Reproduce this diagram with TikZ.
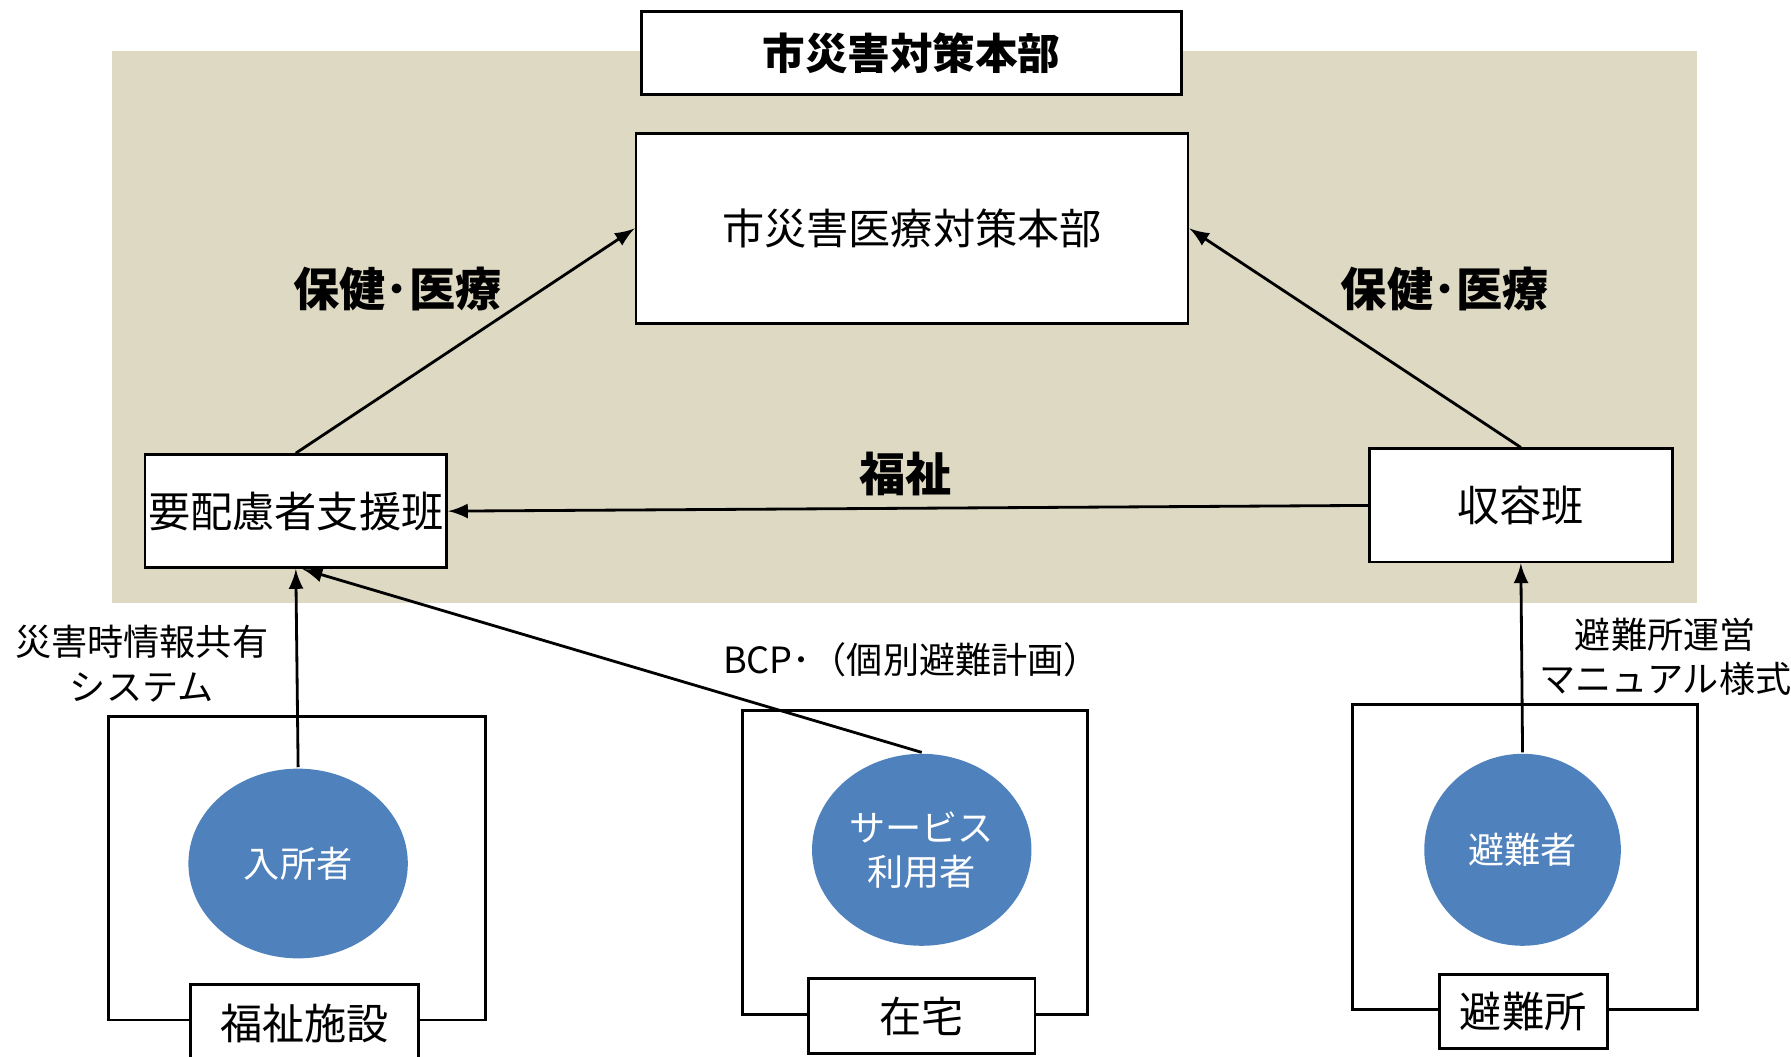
\documentclass[tikz,border=0pt]{standalone}
\usepackage{fontspec}
\setmainfont{Noto Sans CJK JP}
\usetikzlibrary{shapes.geometric}
\definecolor{bgtan}{RGB}{221,217,195}
\definecolor{ovalblue}{RGB}{79,129,189}
\newcommand{\jnorm}{\fontsize{10.5pt}{13pt}\selectfont}
\newcommand{\jbold}{\fontsize{11.5pt}{14pt}\selectfont\bfseries}
\newcommand{\jsmall}{\fontsize{9pt}{11pt}\selectfont}

\begin{document}
\begin{tikzpicture}[x=0.01cm,y=-0.01cm,>=latex,line width=0.7pt,
    box/.style={draw,fill=white,inner sep=0pt,font=\jnorm},
    oval/.style={ellipse,fill=ovalblue,text=white,inner sep=0pt,font=\jsmall,align=center},
    tag/.style={font=\jsmall,align=center},
    flow/.style={font=\jbold}]
   \useasboundingbox (0,0) rectangle (1568,925);
   \clip (0,0) rectangle (1568,925);
   \fill[bgtan] (98,45) rectangle (1486,528);
   \node[box,font=\fontsize{10.6pt}{13pt}\selectfont\bfseries,minimum width=4.72cm,minimum height=0.73cm] (honbu) at (798,46.5) {市災害対策本部};
   \node[box,minimum width=4.83cm,minimum height=1.66cm] (iryo) at (798.5,200) {市災害医療対策本部};
   \node[box,minimum width=2.64cm,minimum height=0.99cm] (yohairyo) at (259,447.5) {要配慮者支援班};
   \node[box,minimum width=2.65cm,minimum height=0.99cm] (shuyo) at (1331.5,442.5) {収容班};
   % places
   \draw (95,627) rectangle (425,893);
   \draw (650,622) rectangle (952,888);
   \draw (1184,617) rectangle (1486,884);
   \node[box,minimum width=1.99cm,minimum height=0.68cm] (shisetsu) at (266.5,896) {福祉施設};
   \node[box,minimum width=1.98cm,minimum height=0.65cm] (zaitaku) at (807,889.5) {在宅};
   \node[box,minimum width=1.47cm,minimum height=0.65cm] (hinanjo) at (1333.5,885.5) {避難所};
   \node[oval,minimum width=1.92cm,minimum height=1.66cm] (nyusho) at (261,756) {入所者};
   \node[oval,minimum width=1.92cm,minimum height=1.68cm] (riyosha) at (807,744) {サービス\\利用者};
   \node[oval,minimum width=1.72cm,minimum height=1.68cm] (hinansha) at (1333,744) {避難者};
   % arrows
   \draw[->] (yohairyo.north) -- (iryo.west);
   \draw[->] (shuyo.north) -- (iryo.east);
   \draw[->] (shuyo.west) -- (yohairyo.east);
   \draw[->] (nyusho.north) -- (yohairyo.south);
   \draw[->] (riyosha.north) -- ([xshift=0.06cm]yohairyo.south);
   \draw[->] (hinansha.north) -- (shuyo.south);
   % labels
   \node[flow] (hoken1) at (348,253) {保健･医療};
   \node[flow] (hoken2) at (1265,253) {保健･医療};
   \node[flow] (fukushi) at (793,415) {福祉};
   \node[tag] (joho) at (124,581) {災害時情報共有\\システム};
   \node[tag] (bcp) at (798,578) {BCP･（個別避難計画）};
   \node[tag] (manual) at (1458,575) {避難所運営\\マニュアル様式};
\end{tikzpicture}
\end{document}
